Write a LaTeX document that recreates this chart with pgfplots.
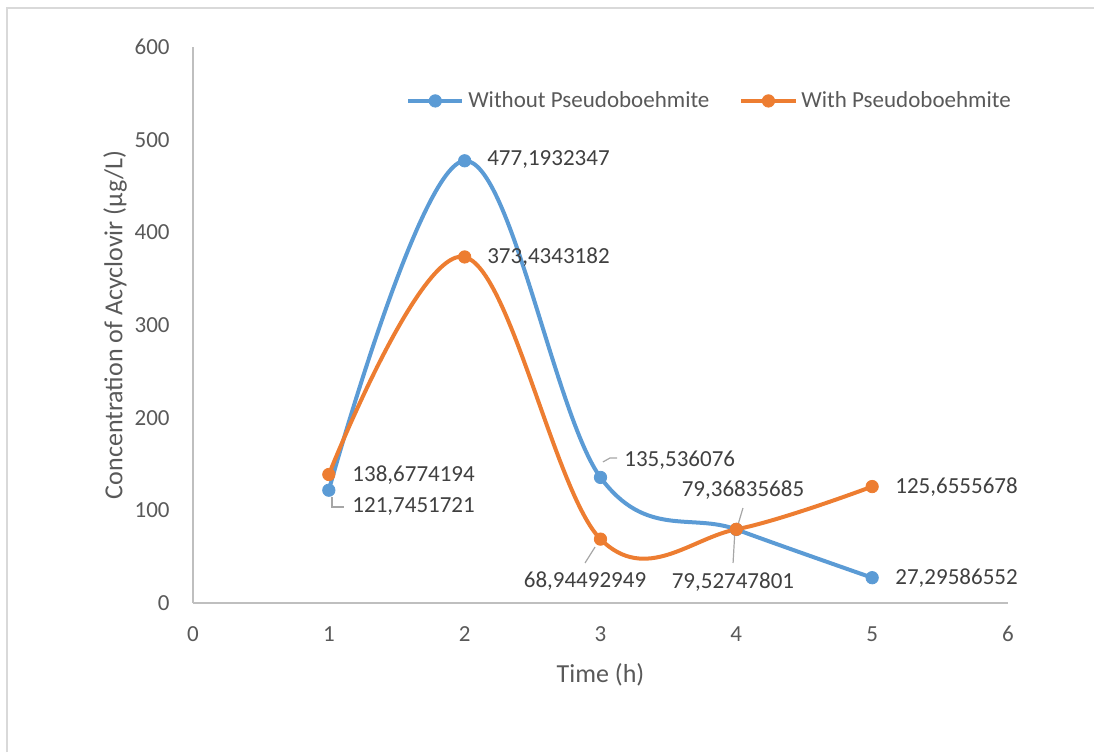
\documentclass[border=0pt]{standalone}
\usepackage{pgfplots}
\pgfplotsset{compat=1.18}
\usepackage{fontspec}
\setmainfont{Carlito}

\definecolor{seriesblue}{RGB}{91,155,213}
\definecolor{seriesorange}{RGB}{237,125,49}
\definecolor{axisgray}{RGB}{191,191,191}
\definecolor{framegray}{RGB}{217,217,217}
\definecolor{ticktext}{RGB}{89,89,89}
\definecolor{labeltext}{RGB}{64,64,64}
\definecolor{leadergray}{RGB}{166,166,166}

\begin{document}
\begin{tikzpicture}
% chart area and its border
\path[use as bounding box] (-96.5pt,-74.5pt) rectangle (450.5pt,301.5pt);
\draw[framegray, line width=1pt] (-93pt,-74.5pt) -- (-93pt,297.5pt) -- (450.5pt,297.5pt);

\begin{axis}[
  at={(0pt,0pt)}, anchor=south west,
  scale only axis, width=407.5pt, height=278pt,
  xmin=0, xmax=6, ymin=0, ymax=600,
  xtick={0,1,...,6}, ytick={0,100,...,600},
  axis x line*=bottom, axis y line*=left,
  axis line style={axisgray, line width=0.8pt},
  major tick length=0pt,
  /pgf/number format/assume math mode=true,
  tick label style={font=\fontsize{11.5}{13}\selectfont, text=ticktext},
  yticklabel style={anchor=east, inner sep=0pt, xshift=-11.5pt},
  xticklabel style={anchor=north, inner sep=0pt, yshift=-11.5pt},
  xlabel={Time (h)},
  ylabel={Concentration of Acyclovir (µg/L)},
  label style={font=\fontsize{13}{15}\selectfont, text=ticktext},
  xlabel style={at={(axis description cs:0.5,-0.1295)}, anchor=center},
  ylabel style={at={(axis description cs:-0.0957,0.5)}, anchor=center},
  legend style={at={(axis description cs:0.635,0.903)}, anchor=center,
    draw=none, fill=none, font=\fontsize{11.5}{13}\selectfont, text=ticktext,
    /tikz/every even column/.append style={column sep=13pt},
    nodes={inner sep=2pt}},
  legend columns=2,
  legend cell align=left,
  legend image code/.code={
    \draw[mark repeat=2, mark phase=2, #1]
      plot coordinates {(0pt,0pt) (13.5pt,0pt) (27pt,0pt)};
  },
  clip=false,
  every axis plot/.append style={line width=2pt, smooth, tension=0.6,
    mark=*, mark size=3.1pt},
]
\addplot[seriesblue, mark options={draw=seriesblue, fill=seriesblue, line width=0.4pt}]
  coordinates {(1,121.7451721) (2,477.1932347) (3,135.536076) (4,79.36835685) (5,27.29586552)};
\addlegendentry{Without Pseudoboehmite}
\addplot[seriesorange, mark options={draw=seriesorange, fill=seriesorange, line width=0.4pt}]
  coordinates {(1,138.6774194) (2,373.4343182) (3,68.94492949) (4,79.52747801) (5,125.6555678)};
\addlegendentry{With Pseudoboehmite}

% leader lines of moved data labels
\draw[leadergray, line width=0.6pt] (axis cs:1.023,114.4) -- (axis cs:1.023,103.6) -- (axis cs:1.112,103.6);
\draw[leadergray, line width=0.6pt] (axis cs:3.018,152.2) -- (axis cs:3.070,156.5) -- (axis cs:3.122,156.5);
\draw[leadergray, line width=0.6pt] (axis cs:2.886,43.2) -- (axis cs:2.960,60.4);
\draw[leadergray, line width=0.6pt] (axis cs:4.049,102.5) -- (axis cs:4.005,80.9);
\draw[leadergray, line width=0.6pt] (axis cs:3.990,78.8) -- (axis cs:3.976,43.2);

% data labels
\begin{scope}[every node/.style={font=\fontsize{11.5}{13}\selectfont, text=labeltext, inner sep=0pt}]
\node[anchor=west] at (axis cs:1.171,103.6) {121,7451721};
\node[anchor=west] at (axis cs:1.171,138.1) {138,6774194};
\node[anchor=west] at (axis cs:2.164,478.1) {477,1932347};
\node[anchor=west] at (axis cs:2.164,373.4) {373,4343182};
\node[anchor=west] at (axis cs:3.173,154.3) {135,536076};
\node[anchor=center] at (axis cs:2.886,23.7) {68,94492949};
\node[anchor=center] at (axis cs:4.049,121.9) {79,36835685};
\node[anchor=center] at (axis cs:3.975,22.7) {79,52747801};
\node[anchor=west] at (axis cs:5.168,27.0) {27,29586552};
\node[anchor=west] at (axis cs:5.168,125.2) {125,6555678};
\end{scope}
\end{axis}
\end{tikzpicture}
\end{document}
